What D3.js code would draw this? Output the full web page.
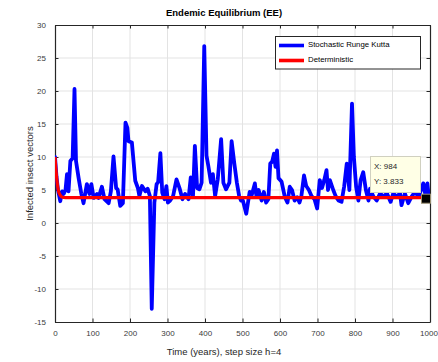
<!DOCTYPE html>
<html>
<head>
<meta charset="utf-8">
<script src="https://cdn.jsdelivr.net/npm/d3@7/dist/d3.min.js"></script>
<style>
  html, body { margin: 0; padding: 0; background: #ffffff; }
  svg { display: block; font-family: "Liberation Sans", Arial, Helvetica, sans-serif; }
</style>
</head>
<body>
<svg id="chart" width="438" height="362"></svg>
<script>
// ---- data ----
const title = "Endemic Equilibrium (EE)";
const xLabel = "Time (years), step size h=4";
const yLabel = "Infected insect vectors";
const seriesNames = ["Stochastic Runge Kutta", "Deterministic"];

const stochTime = [0,4,8,14,19,23,28,32,36,41,47,52,56,63,70,76,85,92,97,103,112,116,125,132,143,149,156,163,167,174,181,188,193,196,205,214,221,225,232,241,247,253,258,265,271,275,281,286,292,297,301,307,315,324,332,340,347,356,362,368,373,379,385,391,398,404,409,416,421,427,434,443,449,456,465,471,478,485,491,496,501,510,519,524,533,537,543,551,557,563,569,574,579,584,588,592,596,604,613,620,626,632,639,646,652,657,664,670,677,684,692,699,706,712,718,724,728,733,742,749,756,764,771,778,785,792,797,803,809,815,822,829,836,840,849,858,867,876,885,895,902,911,920,924,933,942,951,960,969,973,982,987,993,998];
const stochValue = [10,7,5,3.3,4.8,4.4,5,7.4,4.8,9.4,9.8,20.3,9.4,6.8,4.5,3.0,5.9,4.4,5.9,3.8,4.4,3.8,5.5,3.6,3.0,4.8,10.1,5.3,5.1,2.6,3.0,15.2,14.4,12.4,12.2,6.4,5.3,4.1,5.6,4.8,5.2,4.1,-13,3.1,5.9,6.2,10.6,4.6,3.6,5.6,3.1,3.4,4.1,6.6,5.3,3.6,4.4,3.6,6.9,4.1,11.7,5.3,5.1,6.1,26.8,10.2,8.6,6.1,7.4,4.1,6.6,12.7,6.1,5.1,6.1,12.4,9.1,6.1,4.1,3.4,3.4,1.4,4.7,4.1,6.0,4.1,5.0,3.4,4.7,3.1,3.6,9.0,9.3,10.5,8.5,11.0,6.8,6.3,3.9,3.1,5.5,5.0,3.4,3.9,3.1,4.1,7.2,5.6,5.0,4.1,3.6,2.2,6.5,5.3,6.5,8.0,5.0,6.5,5.0,4.0,3.4,3.2,5.5,9.0,5.0,18.1,10.0,5.5,3.4,6.5,7.7,5.0,3.4,5.2,4.0,3.4,4.5,4.0,4.5,3.2,4.5,4.0,4.5,2.7,4.5,3.0,4.0,4.7,4.0,4.5,6.0,4.5,6.0,3.4];

const detTime = [0,2,4,6,8,10,12,16,20,28,40,1000];
const detValue = [10,8.4,7.1,6.0,5.2,4.7,4.4,4.05,3.9,3.85,3.833,3.833];

const xTicks = [0,100,200,300,400,500,600,700,800,900,1000];
const yTicks = [-15,-10,-5,0,5,10,15,20,25,30];

const tipX = 984;
const tipY = 3.833;

// ---- layout ----
const svg = d3.select("#chart");
const pL = 55, pR = 430, pT = 25, pB = 322;

const x = d3.scaleLinear().domain([0, 1000]).range([pL, pR]);
const y = d3.scaleLinear().domain([-15, 30]).range([pB, pT]);

const axisColor = "#262626";
const gridColor = "#e3e3e3";
const fmt = d => String(d);

// grid
svg.append("g").selectAll("line").data(xTicks.slice(1, -1)).join("line")
  .attr("x1", d => x(d)).attr("x2", d => x(d))
  .attr("y1", pT).attr("y2", pB)
  .attr("stroke", gridColor).attr("stroke-width", 1);
svg.append("g").selectAll("line").data(yTicks.slice(1, -1)).join("line")
  .attr("y1", d => y(d)).attr("y2", d => y(d))
  .attr("x1", pL).attr("x2", pR)
  .attr("stroke", gridColor).attr("stroke-width", 1);

// axes (ticks inward, on all sides)
const tickLen = 3.5;
const fontTick = 8;
const gB = svg.append("g").attr("transform", `translate(0,${pB})`)
  .call(d3.axisBottom(x).tickValues(xTicks).tickFormat(fmt).tickSizeInner(-tickLen).tickSizeOuter(0).tickPadding(8));
const gT = svg.append("g").attr("transform", `translate(0,${pT})`)
  .call(d3.axisTop(x).tickValues(xTicks).tickSizeInner(-tickLen).tickSizeOuter(0).tickFormat(""));
const gL = svg.append("g").attr("transform", `translate(${pL},0)`)
  .call(d3.axisLeft(y).tickValues(yTicks).tickFormat(fmt).tickSizeInner(-tickLen).tickSizeOuter(0).tickPadding(9));
const gR = svg.append("g").attr("transform", `translate(${pR},0)`)
  .call(d3.axisRight(y).tickValues(yTicks).tickSizeInner(-tickLen).tickSizeOuter(0).tickFormat(""));

[gB, gT, gL, gR].forEach(g => {
  g.select(".domain").attr("stroke", axisColor).attr("stroke-width", 1.2);
  g.selectAll(".tick line").attr("stroke", axisColor).attr("stroke-width", 1);
  g.selectAll(".tick text").attr("fill", "#3a3a3a")
    .style("font-family", "'Liberation Sans', Arial, sans-serif").style("font-size", fontTick + "px");
});
// keep the last x label inside the window
gB.selectAll(".tick text").filter(d => d === 1000).attr("dx", "-1.5");

// clip
svg.append("clipPath").attr("id", "clip").append("rect")
  .attr("x", pL).attr("y", pT).attr("width", pR - pL).attr("height", pB - pT);

const lineGen = d3.line().x(d => x(d[0])).y(d => y(d[1]));

svg.append("path")
  .datum(d3.zip(stochTime, stochValue))
  .attr("clip-path", "url(#clip)")
  .attr("d", lineGen)
  .attr("fill", "none").attr("stroke", "#0000ff").attr("stroke-width", 3.8)
  .attr("stroke-linejoin", "round").attr("stroke-linecap", "round");

svg.append("path")
  .datum(d3.zip(detTime, detValue))
  .attr("clip-path", "url(#clip)")
  .attr("d", d3.line().curve(d3.curveMonotoneX).x(d => x(d[0])).y(d => y(d[1])))
  .attr("fill", "none").attr("stroke", "#ff0000").attr("stroke-width", 3.2)
  .attr("stroke-linejoin", "round");

// data tip marker
svg.append("rect")
  .attr("x", x(tipX) - 2.5).attr("y", y(tipY) - 3.5)
  .attr("width", 9).attr("height", 9)
  .attr("fill", "#000000").attr("stroke", "#9a8f70").attr("stroke-width", 1);

// data tip box
const tip = svg.append("g");
tip.append("rect")
  .attr("x", 370.5).attr("y", 156.5).attr("width", 50).attr("height", 36)
  .attr("fill", "#ffffe6").attr("stroke", "#d0d0c0").attr("stroke-width", 1);
tip.append("text").attr("x", 374).attr("y", 168.5)
  .style("font-size", "8px").attr("fill", "#262626").text("X: " + tipX);
tip.append("text").attr("x", 374).attr("y", 183.5)
  .style("font-size", "8px").attr("fill", "#262626").text("Y: " + tipY.toFixed(3));

// legend
const leg = svg.append("g");
leg.append("rect")
  .attr("x", 275.5).attr("y", 36.5).attr("width", 145).attr("height", 32.5)
  .attr("fill", "#ffffff").attr("stroke", "#262626").attr("stroke-width", 1);
const legColors = ["#0000ff", "#ff0000"];
seriesNames.forEach((name, i) => {
  const ly = 45.5 + i * 15;
  leg.append("line").attr("x1", 279).attr("x2", 304).attr("y1", ly).attr("y2", ly)
    .attr("stroke", legColors[i]).attr("stroke-width", 3.6);
  leg.append("text").attr("x", 308).attr("y", ly + 1.5)
    .style("font-size", "7.8px").attr("fill", "#000000").text(name);
});

// title and labels
svg.append("text").attr("x", 224).attr("y", 15.5).attr("text-anchor", "middle")
  .style("font-size", "9.5px").style("font-weight", "bold").attr("fill", "#000000").text(title);
svg.append("text").attr("x", 224).attr("y", 355).attr("text-anchor", "middle")
  .style("font-size", "9.5px").attr("fill", "#262626").text(xLabel);
svg.append("text")
  .attr("transform", `translate(32.5,${(pT + pB) / 2}) rotate(-90)`)
  .attr("text-anchor", "middle")
  .style("font-size", "9.5px").attr("fill", "#262626").text(yLabel);
</script>
</body>
</html>
